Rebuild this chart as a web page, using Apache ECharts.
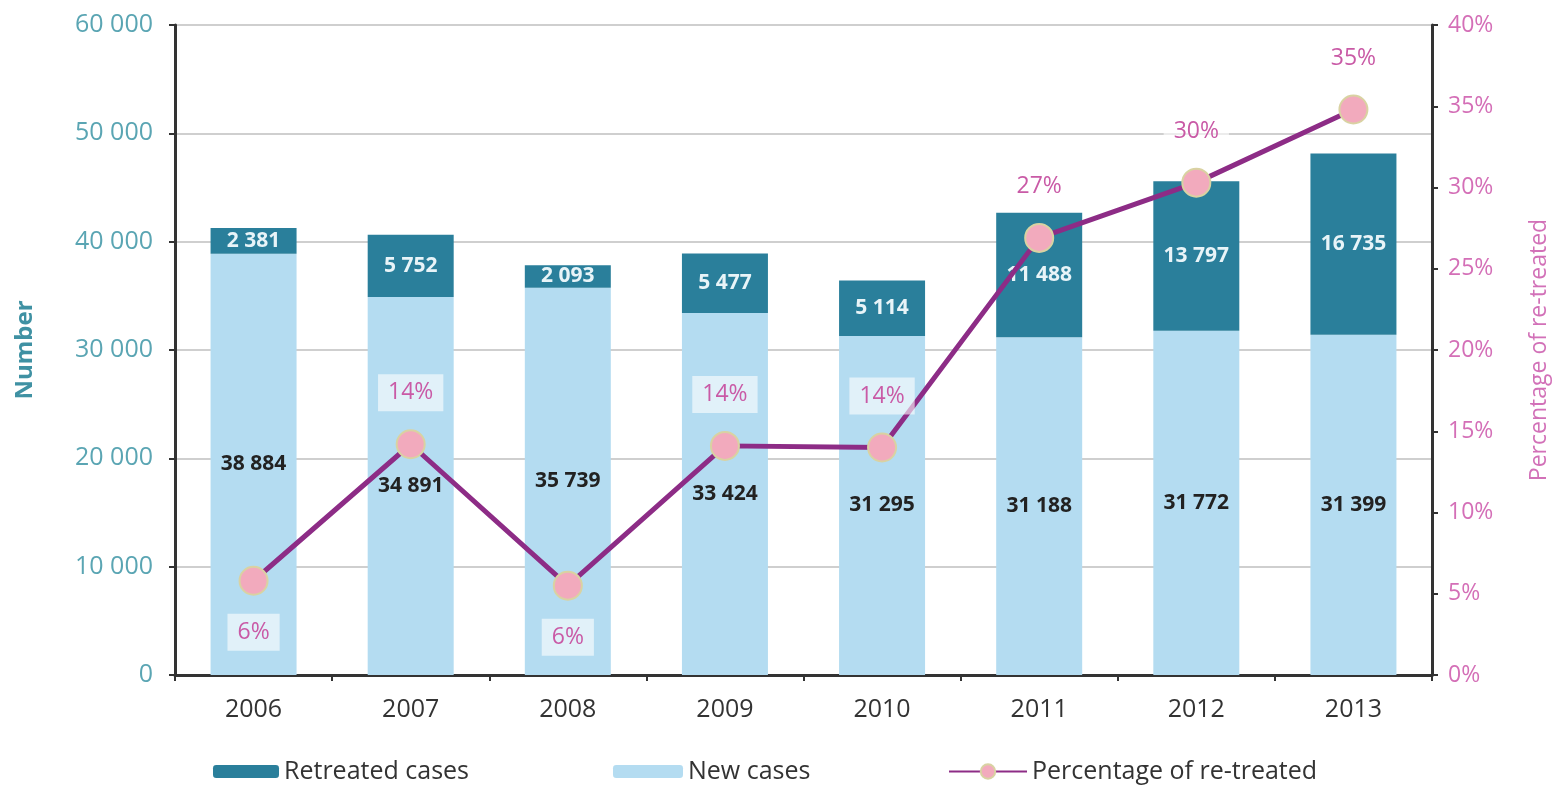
<!DOCTYPE html>
<html>
<head>
<meta charset="utf-8">
<script src="https://cdn.jsdelivr.net/npm/echarts@6/dist/echarts.min.js"></script>
<style>
html,body{margin:0;padding:0;background:#fff;}
#chart{width:1558px;height:785px;}
</style>
</head>
<body>
<div id="chart"></div>
<script>
const years = ['2006','2007','2008','2009','2010','2011','2012','2013'];
const newCases = [38884, 34891, 35739, 33424, 31295, 31188, 31772, 31399];
const retreatedCases = [2381, 5752, 2093, 5477, 5114, 11488, 13797, 16735];
const pctRetreated = [5.8, 14.2, 5.5, 14.1, 14.0, 26.9, 30.3, 34.8];
const pctLabels = ['6%', '14%', '6%', '14%', '14%', '27%', '30%', '35%'];
const leftTicks = [0, 10000, 20000, 30000, 40000, 50000, 60000];
const rightTicks = [0, 5, 10, 15, 20, 25, 30, 35, 40];
const pctLabelSide = ['bottom','top','bottom','top','top','top','top','top'];

const FONT = '"Open Sans", "Noto Sans", sans-serif';
const fmtNum = v => String(v).replace(/\B(?=(\d{3})+(?!\d))/g, ' ');

const chart = echarts.init(document.getElementById('chart'));
chart.setOption({
  animation: false,
  backgroundColor: '#ffffff',
  textStyle: { fontFamily: FONT },
  grid: { left: 175, right: 126, top: 25, bottom: 110, containLabel: false, outerBoundsMode: 'none' },
  legend: [
    { data: ['Retreated cases'], left: 208, top: 754, itemWidth: 66, itemHeight: 13,
      textStyle: { fontSize: 25, color: '#333', fontFamily: FONT } },
    { data: ['New cases'], left: 608, top: 754, itemWidth: 70, itemHeight: 13,
      textStyle: { fontSize: 25, color: '#333', fontFamily: FONT } },
    { data: ['Percentage of re-treated'], left: 943, top: 754, itemWidth: 78, itemHeight: 18,
      textStyle: { fontSize: 25, color: '#333', fontFamily: FONT } }
  ],
  xAxis: {
    type: 'category',
    data: years,
    axisLine: { lineStyle: { color: '#333', width: 3 } },
    axisTick: { show: true, length: 6, lineStyle: { color: '#333', width: 2 } },
    axisLabel: { fontSize: 25, color: '#333', margin: 22, fontFamily: FONT }
  },
  yAxis: [
    {
      type: 'value', min: 0, max: 60000, interval: 10000,
      name: 'Number', nameLocation: 'middle', nameGap: 138,
      nameTextStyle: { fontSize: 24, color: '#3f91a3', fontWeight: 'bold', fontFamily: FONT },
      axisLine: { show: true, lineStyle: { color: '#333', width: 3 } },
      axisTick: { show: true, length: 6, lineStyle: { color: '#333', width: 2 } },
      axisLabel: { fontSize: 25, color: '#5aa5b3', margin: 22, formatter: v => fmtNum(v), fontFamily: FONT },
      splitLine: { show: true, lineStyle: { color: '#cfcfcf', width: 2 } }
    },
    {
      type: 'value', min: 0, max: 40, interval: 5, position: 'right',
      name: 'Percentage of re-treated', nameLocation: 'middle', nameGap: 96,
      nameTextStyle: { fontSize: 23, color: '#d271b8', fontFamily: FONT },
      axisLine: { show: true, lineStyle: { color: '#333', width: 3 } },
      axisTick: { show: true, length: 6, lineStyle: { color: '#333', width: 2 } },
      axisLabel: { fontSize: 23, color: '#d46fb7', margin: 16, formatter: '{value}%', fontFamily: FONT },
      splitLine: { show: false }
    }
  ],
  series: [
    {
      name: 'New cases', type: 'bar', stack: 'total', barWidth: 86,
      itemStyle: { color: '#b4dcf1' },
      label: { show: true, position: 'inside', formatter: p => fmtNum(p.value),
        fontSize: 21, fontWeight: 'bold', color: '#222', fontFamily: FONT },
      data: newCases, z: 2
    },
    {
      name: 'Retreated cases', type: 'bar', stack: 'total', barWidth: 86,
      itemStyle: { color: '#2a7f9b' },
      label: { show: true, position: 'inside', formatter: p => fmtNum(p.value),
        fontSize: 21, fontWeight: 'bold', color: '#e8f4f8', fontFamily: FONT },
      data: retreatedCases, z: 2
    },
    {
      name: 'Percentage of re-treated', type: 'line', yAxisIndex: 1,
      symbol: 'circle', symbolSize: 28,
      lineStyle: { color: '#8d2c86', width: 5 },
      itemStyle: { color: '#f2aabd', borderColor: '#d9d2a2', borderWidth: 2 },
      data: pctRetreated.map((v, i) => ({
        value: v,
        label: { position: pctLabelSide[i] }
      })),
      label: {
        show: true, distance: 18,
        formatter: p => pctLabels[p.dataIndex],
        fontSize: 23, color: '#c95aa6', fontFamily: FONT,
        backgroundColor: 'rgba(255,255,255,0.6)', padding: [7, 10]
      },
      z: 5
    }
  ]
});
</script>
</body>
</html>
